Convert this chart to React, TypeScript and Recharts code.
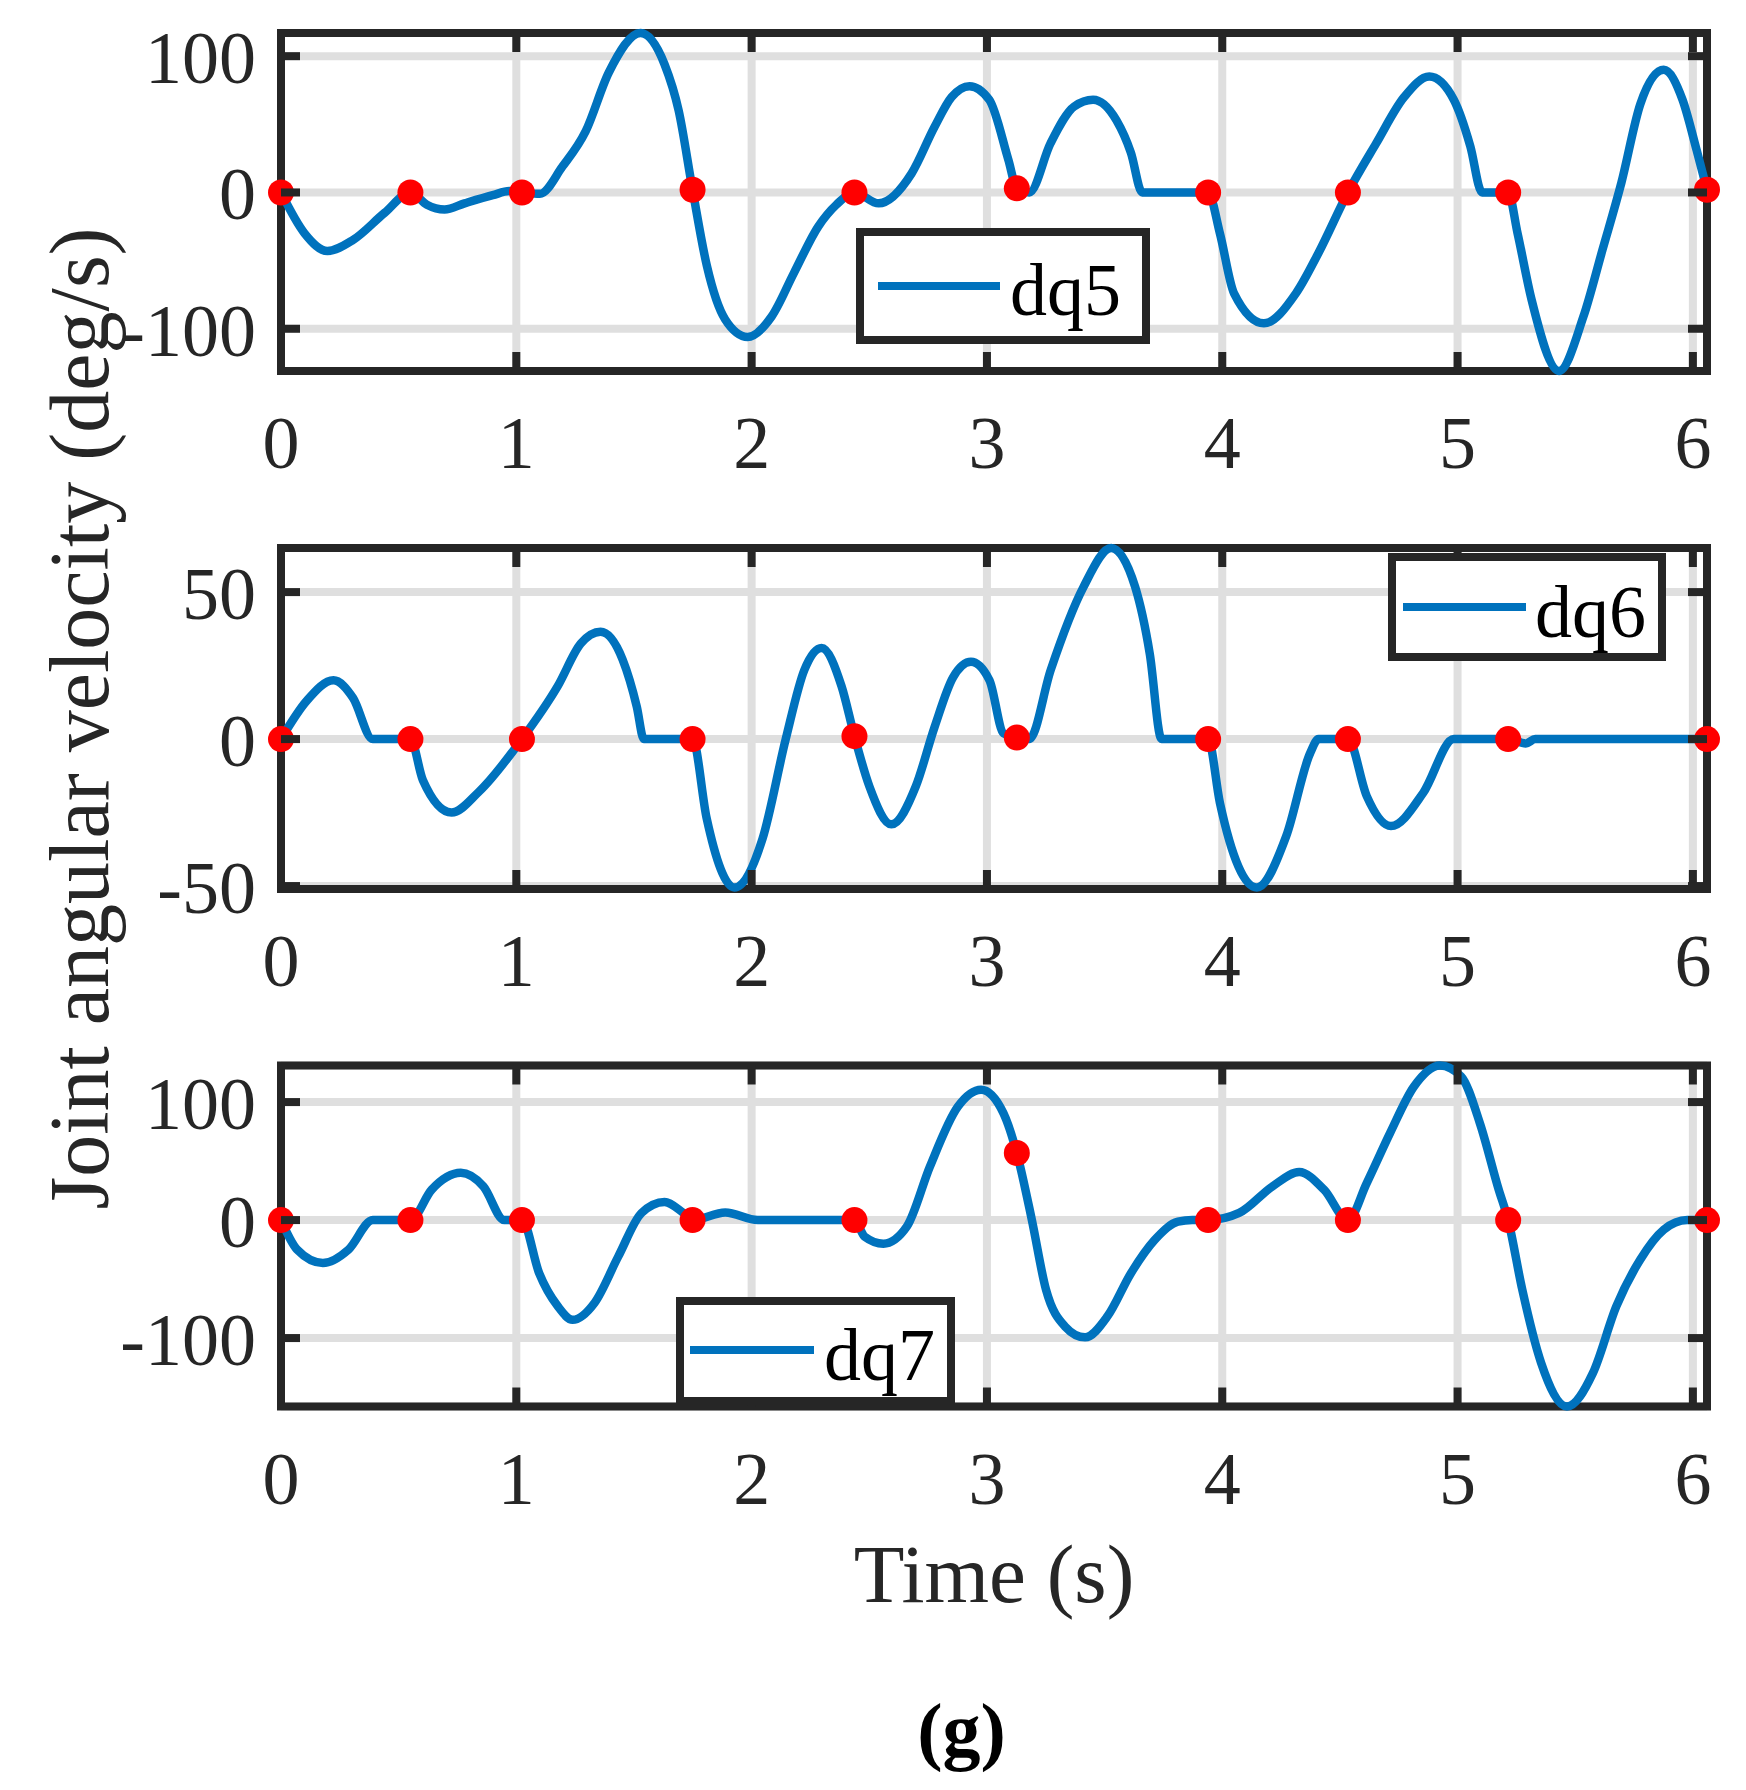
import { CartesianGrid, ComposedChart, Legend, Line, ReferenceArea, Scatter, XAxis, YAxis } from 'recharts';

const FONT = "'Liberation Serif', 'Times New Roman', serif";
const INK = '#262626';
const BLUE = '#0072BD';
const GRID = '#dfdfdf';
const PAGE_W = 1746;
const PLOT_LEFT = 281;
const PLOT_RIGHT = 1707;
const T_END = 6.06;

const timeTicks = [0, 1, 2, 3, 4, 5, 6];
const viaTimes = [0, 0.55, 1.024, 1.749, 2.437, 3.127, 3.94, 4.534, 5.215, 6.06];

// dq5
const dq5Time = [
  0, 0.1, 0.197, 0.305, 0.44, 0.55, 0.62, 0.695, 0.78, 0.9, 0.97, 1.024, 1.1, 1.196, 1.295, 1.393, 1.528, 1.63,
  1.69, 1.749, 1.81, 1.887, 1.983, 2.085, 2.18, 2.283, 2.36, 2.437, 2.54, 2.68, 2.777, 2.85, 2.926, 3.01, 3.091,
  3.127, 3.18, 3.27, 3.37, 3.451, 3.55, 3.612, 3.66, 3.94, 3.99, 4.05, 4.177, 4.313, 4.41, 4.534, 4.654, 4.773,
  4.88, 4.984, 5.054, 5.104, 5.215, 5.255, 5.315, 5.431, 5.535, 5.616, 5.696, 5.777, 5.876, 5.956, 6.016, 6.06,
];
const dq5Value = [
  0, -30, -43, -35, -15, 0, -9, -12.5, -8, -2, 1, 0, -1, 19, 45, 88, 117, 94,
  60, 2, -54, -93, -106, -91, -59, -25, -9, 0, -8, 14, 48, 70, 78, 68, 24,
  3, 0, 36, 63, 68, 53, 29, 0, 0, -30, -74, -96, -74, -44, 0, 36, 70,
  85, 68, 34, 0, 0, -30, -79, -131, -91, -42, 7, 65, 90, 68, 31, 2,
];
const dq5Via = [0, 0, 0, 2, 0, 3, 0, 0, 0, 2];
const dq5Ticks = [-100, 0, 100];

// dq6
const dq6Time = [
  0, 0.109, 0.223, 0.306, 0.39, 0.55, 0.603, 0.725, 0.84, 1.024, 1.176, 1.274, 1.358, 1.452, 1.512, 1.542, 1.749,
  1.809, 1.927, 2.046, 2.145, 2.224, 2.297, 2.382, 2.437, 2.5, 2.594, 2.698, 2.777, 2.856, 2.932, 3.011, 3.07,
  3.127, 3.18, 3.271, 3.41, 3.528, 3.63, 3.692, 3.742, 3.94, 3.99, 4.147, 4.272, 4.374, 4.409, 4.534, 4.614,
  4.717, 4.854, 4.984, 5.215, 5.29, 5.33, 6.06,
];
const dq6Value = [
  0, 13, 20, 14, 0, 0, -14, -25, -18, 0, 18, 32.5, 36.5, 27, 11, 0, 0,
  -27, -50.5, -34, 0, 23.5, 31, 18, 1, -16, -29, -16, 4, 21, 26.3, 20, 2,
  0.5, 0, 23.5, 51.7, 65, 51.7, 29, 0, 0, -21.7, -50.5, -33, -4.7, 0, 0, -19.4,
  -29.6, -18.3, 0, 0, -1.5, 0, 0,
];
const dq6Via = [0, 0, 0, 0, 1, 0.5, 0, 0, 0, 0];
const dq6Ticks = [-50, 0, 50];

// dq7
const dq7Time = [
  0, 0.068, 0.178, 0.287, 0.39, 0.55, 0.64, 0.764, 0.86, 0.949, 1.024, 1.097, 1.176, 1.239, 1.333, 1.433, 1.532,
  1.63, 1.71, 1.749, 1.888, 2.026, 2.437, 2.48, 2.56, 2.66, 2.758, 2.876, 2.975, 3.07, 3.127, 3.191, 3.251,
  3.331, 3.417, 3.512, 3.612, 3.712, 3.812, 3.873, 3.94, 4.072, 4.213, 4.327, 4.433, 4.534, 4.614, 4.713, 4.814,
  4.925, 5.015, 5.095, 5.175, 5.215, 5.275, 5.355, 5.465, 5.575, 5.675, 5.776, 5.876, 5.976, 6.06,
];
const dq7Value = [
  0, -25, -36.4, -25, 0, 0, 25.7, 40, 28.5, 0, 0, -45, -73, -84.5, -70, -31, 6,
  15.3, 6, 0, 6.5, 0, 0, -14, -20, -5.4, 45.5, 96, 110.5, 90.7, 56.8, 0, -59,
  -90, -99.4, -81.6, -45, -17, -1.4, 0, 0, 6, 28.5, 40.7, 25.7, 0, 31.4, 73.7, 113,
  131, 121.8, 82, 25.7, 0, -59, -121, -158, -129.7, -73, -33.6, -8.2, 0, 0,
];
const dq7Via = [0, 0, 0, 0, 0, 56.8, 0, 0, 0, 0];
const dq7Ticks = [-100, 0, 100];

const toRows = (ts: number[], vs: number[]) => ts.map((t, i) => ({ t, v: vs[i] }));

function XTick(props: any) {
  const { x, y, payload, plotTop } = props;
  return (
    <g>
      <line x1={x} x2={x} y1={y} y2={y - 19} stroke={INK} strokeWidth={8} />
      <line x1={x} x2={x} y1={plotTop} y2={plotTop + 19} stroke={INK} strokeWidth={8} />
      <text x={x} y={y + 97} textAnchor="middle" fontSize={74} fontFamily={FONT} fill={INK}>
        {payload.value}
      </text>
    </g>
  );
}

function YTick(props: any) {
  const { x, y, payload } = props;
  return (
    <g>
      <line x1={x} x2={x + 19} y1={y} y2={y} stroke={INK} strokeWidth={8} />
      <line x1={PLOT_RIGHT - 19} x2={PLOT_RIGHT} y1={y} y2={y} stroke={INK} strokeWidth={8} />
      <text x={x - 25} y={y + 27} textAnchor="end" fontSize={74} fontFamily={FONT} fill={INK}>
        {payload.value}
      </text>
    </g>
  );
}

function LegendBox({ label, box }: { label: string; box: any }) {
  return (
    <svg width={box.w} height={box.h} style={{ display: 'block' }}>
      <rect x={4} y={4} width={box.w - 8} height={box.h - 8} fill="#fff" stroke={INK} strokeWidth={8} />
      <line x1={box.lx1} x2={box.lx2} y1={box.ly} y2={box.ly} stroke={BLUE} strokeWidth={8} />
      <text x={box.tx} y={box.ty} fontSize={74} fontFamily={FONT} fill="#000">
        {label}
      </text>
    </svg>
  );
}

function Panel(props: any) {
  const { top, height, plotTop, plotBottom, name, times, values, via, yTicks, yDomain, box } = props;
  const rows = toRows(times, values);
  const viaRows = toRows(viaTimes, via);
  return (
    <div style={{ position: 'absolute', left: 0, top }}>
      <ComposedChart width={PAGE_W} height={height} margin={{ top: plotTop, right: PAGE_W - PLOT_RIGHT, bottom: 0, left: 0 }}>
        <CartesianGrid stroke={GRID} strokeWidth={8} />
        <ReferenceArea x1={0} x2={T_END} y1={yDomain[0]} y2={yDomain[1]} fill="none" fillOpacity={0} stroke={INK} strokeWidth={8} />
        <XAxis
          dataKey="t"
          type="number"
          domain={[0, T_END]}
          ticks={timeTicks}
          interval={0}
          height={height - plotBottom}
          tickSize={0}
          tickMargin={0}
          axisLine={false}
          tickLine={false}
          tick={(p: any) => <XTick {...p} plotTop={plotTop} />}
        />
        <YAxis
          type="number"
          domain={yDomain}
          ticks={yTicks}
          interval={0}
          width={PLOT_LEFT}
          tickSize={0}
          tickMargin={0}
          axisLine={false}
          tickLine={false}
          tick={(p: any) => <YTick {...p} />}
        />
        <Line data={rows} dataKey="v" name={name} type="monotone" stroke={BLUE} strokeWidth={8.5} dot={false} isAnimationActive={false} />
        <Scatter
          data={viaRows}
          dataKey="v"
          legendType="none"
          isAnimationActive={false}
          shape={(p: any) => <circle cx={p.cx} cy={p.cy} r={13} fill="#ff0000" />}
        />
        <Legend
          layout="horizontal"
          verticalAlign="middle"
          align="center"
          wrapperStyle={{ left: box.left, top: box.top, width: box.w, height: box.h }}
          content={() => <LegendBox label={name} box={box} />}
        />
      </ComposedChart>
    </div>
  );
}

export default function App() {
  return (
    <div style={{ position: 'absolute', left: 0, top: 0, width: PAGE_W, height: 1790, background: '#fff' }}>
      <Panel
        top={0}
        height={500}
        plotTop={33}
        plotBottom={371}
        name="dq5"
        times={dq5Time}
        values={dq5Value}
        via={dq5Via}
        yTicks={dq5Ticks}
        yDomain={[-131, 117]}
        box={{ left: 856, top: 228, w: 294, h: 116, lx1: 22, lx2: 144, ly: 58, tx: 154, ty: 87 }}
      />
      <Panel
        top={500}
        height={520}
        plotTop={48}
        plotBottom={389}
        name="dq6"
        times={dq6Time}
        values={dq6Value}
        via={dq6Via}
        yTicks={dq6Ticks}
        yDomain={[-51, 65]}
        box={{ left: 1388, top: 53, w: 278, h: 108, lx1: 15, lx2: 138, ly: 54, tx: 147, ty: 84 }}
      />
      <Panel
        top={1020}
        height={540}
        plotTop={45.5}
        plotBottom={386.5}
        name="dq7"
        times={dq7Time}
        values={dq7Value}
        via={dq7Via}
        yTicks={dq7Ticks}
        yDomain={[-158, 131]}
        box={{ left: 676, top: 277, w: 279, h: 108, lx1: 14, lx2: 138, ly: 53, tx: 148, ty: 83 }}
      />
      <svg width={PAGE_W} height={1790} style={{ position: 'absolute', left: 0, top: 0, pointerEvents: 'none' }}>
        <text
          transform="translate(108 718.5) rotate(-90)"
          textAnchor="middle"
          fontSize={84}
          fontFamily={FONT}
          fill={INK}
        >
          Joint angular velocity (deg/s)
        </text>
        <text x={994} y={1602} textAnchor="middle" fontSize={83} fontFamily={FONT} fill={INK}>
          Time (s)
        </text>
        <text x={961.5} y={1756} textAnchor="middle" fontSize={76} fontWeight="bold" fontFamily={FONT} fill="#000">
          (g)
        </text>
      </svg>
    </div>
  );
}
